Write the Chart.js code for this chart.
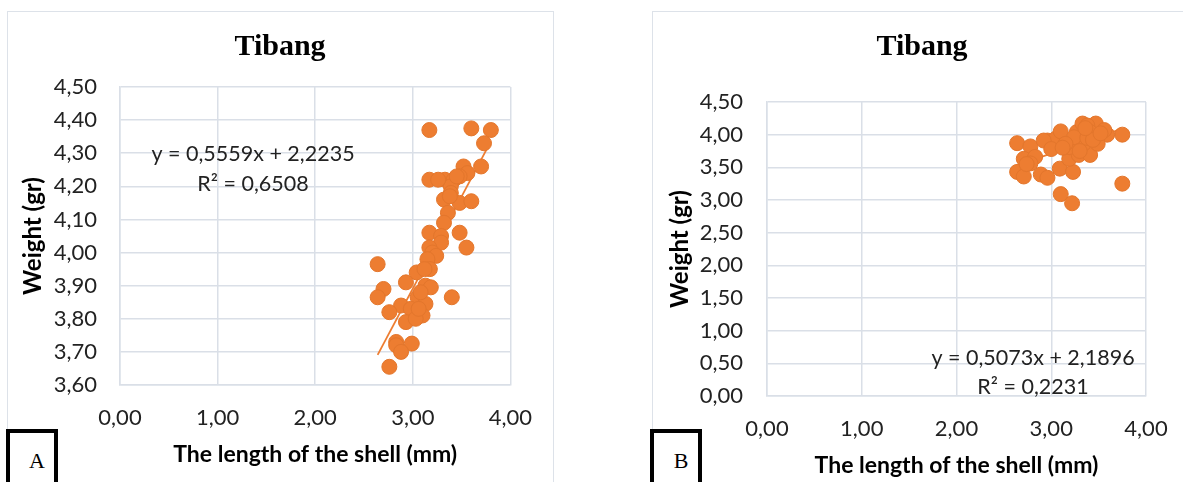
<!DOCTYPE html>
<html>
<head>
<meta charset="utf-8">
<script src="https://cdn.jsdelivr.net/npm/chart.js@4.4.0/dist/chart.umd.min.js"></script>
<style>
  html, body { margin: 0; padding: 0; background: #fff; }
  body { width: 1183px; height: 482px; position: relative; overflow: hidden; }
  .frame { position: absolute; border: 1.5px solid #dde2e9; box-sizing: border-box; }
  #frameA { left: 7px; top: 11px; width: 547px; height: 490px; }
  #frameB { left: 652px; top: 11px; width: 540px; height: 490px; }
  canvas { position: absolute; }
  #chartA { left: 8px; top: 12px; }
  #chartB { left: 653px; top: 12px; }
  .tag { position: absolute; top: 429px; width: 52px; height: 70px; border: 4px solid #000;
         box-sizing: border-box; background: #fff; font-family: 'Liberation Serif', serif;
         font-size: 22px; line-height: 26px; padding: 15px 0 0 10px; text-align: center; color: #000; }
  #tagA { left: 6px; }
  #tagB { left: 650px; }
</style>
</head>
<body>
<div class="frame" id="frameA"></div>
<div class="frame" id="frameB"></div>
<canvas id="chartA" width="544" height="470"></canvas>
<canvas id="chartB" width="538" height="470"></canvas>
<div class="tag" id="tagA">A</div>
<div class="tag" id="tagB">B</div>

<script>
// chart A: Tibang, weight vs shell length
const lengthA = [3.17, 3.60, 3.80, 3.73, 3.70, 3.52, 3.56, 3.48, 3.17, 3.33,
                 3.42, 3.39, 3.39, 3.32, 3.48, 3.60, 3.36, 3.32, 3.17, 3.29,
                 3.48, 3.29, 3.55, 3.17, 3.20, 3.24, 3.15, 3.175, 3.04, 2.93,
                 3.13, 3.185, 2.64, 2.70, 2.64, 3.05, 3.40, 2.88, 3.13, 2.76,
                 2.98, 3.10, 2.93, 3.03, 2.83, 2.83, 2.99, 2.88, 2.76, 3.08,
                 3.12, 3.06, 3.26, 3.45, 3.38];
const weightA = [4.37, 4.375, 4.37, 4.33, 4.26, 4.26, 4.24, 4.23, 4.22, 4.22,
                 4.22, 4.20, 4.18, 4.16, 4.15, 4.155, 4.12, 4.09, 4.06, 4.05,
                 4.06, 4.03, 4.015, 4.015, 4.00, 3.99, 3.98, 3.95, 3.94, 3.91,
                 3.90, 3.895, 3.965, 3.89, 3.865, 3.865, 3.865, 3.84, 3.845, 3.82,
                 3.83, 3.81, 3.79, 3.80, 3.73, 3.72, 3.725, 3.70, 3.655, 3.88,
                 3.95, 3.83, 4.22, 4.23, 4.17];
const slopeA = 0.5559, interceptA = 2.2235, r2A = 0.6508;
const yTicksA = [3.6, 3.7, 3.8, 3.9, 4.0, 4.1, 4.2, 4.3, 4.4, 4.5];

// chart B: Tibang, second sample
const lengthB = [2.64, 2.78, 2.71, 2.83, 2.78, 2.64, 2.71, 2.89, 2.96, 2.96,
                 3.05, 3.10, 3.09, 3.23, 3.10, 3.22, 3.75, 3.75, 3.19, 3.29,
                 3.41, 3.19, 3.27, 3.33, 3.47, 3.38, 3.59, 3.49, 3.34, 3.41,
                 3.56, 3.31, 3.24, 3.15, 2.92, 3.00, 2.74, 3.38, 3.44, 3.30,
                 3.12, 3.36, 3.52];
const weightB = [3.87, 3.82, 3.63, 3.66, 3.56, 3.43, 3.36, 3.39, 3.34, 3.91,
                 3.94, 4.05, 3.48, 3.43, 3.09, 2.95, 4.00, 3.25, 3.63, 3.69,
                 3.69, 3.81, 4.04, 4.17, 4.17, 4.14, 4.00, 3.86, 3.86, 4.04,
                 4.07, 3.94, 3.96, 3.86, 3.91, 3.78, 3.55, 3.95, 3.92, 3.75,
                 3.80, 4.10, 4.02];
const slopeB = 0.5073, interceptB = 2.1896, r2B = 0.2231;
const yTicksB = [0, 0.5, 1, 1.5, 2, 2.5, 3, 3.5, 4, 4.5];

const xTicks = [0, 1, 2, 3, 4];

const ORANGE = '#ED7D31';
const GRID = '#dadfe7';
const fmt = (v, d) => v.toFixed(d).replace('.', ',');

// trendline equation text
const eqLabel = {
  id: 'eqLabel',
  afterDatasetsDraw(chart, args, opts) {
    const a = chart.chartArea, ctx = chart.ctx;
    ctx.save();
    ctx.font = '21.5px Lato';
    ctx.fillStyle = '#222';
    ctx.textAlign = 'center';
    ctx.textBaseline = 'middle';
    opts.lines.forEach((t, i) => ctx.fillText(t, a.left + opts.dx, a.top + opts.dy + i * opts.gap));
    ctx.restore();
  }
};

function trend(xs, slope, icpt) {
  const lo = Math.min(...xs), hi = Math.max(...xs);
  return [{ x: lo, y: slope * lo + icpt }, { x: hi, y: slope * hi + icpt }];
}

function makeChart(id, xs, ys, slope, icpt, r2, yTicks, L) {
  const pts = xs.map((x, i) => ({ x, y: ys[i] }));
  return new Chart(document.getElementById(id), {
    type: 'scatter',
    data: {
      datasets: [
        { data: pts, order: 0, backgroundColor: ORANGE, borderColor: '#e3762c', borderWidth: 1,
          pointRadius: 7.5, pointHoverRadius: 7.5 },
        { data: trend(xs, slope, icpt), order: 1, showLine: true, borderColor: ORANGE,
          borderWidth: 1.8, pointRadius: 0, fill: false }
      ]
    },
    options: {
      responsive: false,
      animation: false,
      events: [],
      layout: { padding: 0 },
      plugins: {
        legend: { display: false },
        tooltip: { enabled: false },
        title: {
          display: true, text: 'Tibang', color: '#000',
          font: { family: 'Liberation Serif', size: 30, weight: 'bold' },
          padding: { top: L.titleTop, bottom: L.titleBottom }
        },
        eqLabel: {
          lines: ['y = ' + fmt(slope, 4) + 'x + ' + fmt(icpt, 4), 'R² = ' + fmt(r2, 4)],
          dx: L.eqDx, dy: L.eqDy, gap: L.eqGap
        }
      },
      scales: {
        x: {
          type: 'linear', min: 0, max: 4,
          afterBuildTicks: s => { s.ticks = xTicks.map(v => ({ value: v })); },
          afterFit: s => { s.height = L.xH; },
          grid: { color: GRID, lineWidth: 1.5, drawTicks: false },
          border: { color: GRID, width: 1.5 },
          ticks: { padding: L.xTickPad, color: '#222', maxRotation: 0,
                   font: { family: 'Lato', size: 22 }, callback: v => fmt(v, 2) },
          title: { display: true, text: 'The length of the shell (mm)', color: '#000',
                   font: { family: 'Lato', size: 23, weight: 'bold' },
                   padding: { top: 0, bottom: L.xTitlePad } }
        },
        y: {
          type: 'linear', min: yTicks[0], max: yTicks[yTicks.length - 1],
          afterBuildTicks: s => { s.ticks = yTicks.map(v => ({ value: v })); },
          afterFit: s => { s.width = L.yW; },
          grid: { color: GRID, lineWidth: 1.5, drawTicks: false },
          border: { color: GRID, width: 1.5 },
          ticks: { padding: L.yTickPad, color: '#222',
                   font: { family: 'Lato', size: 22 }, callback: v => fmt(v, 2) },
          title: { display: true, text: 'Weight (gr)', color: '#000',
                   font: { family: 'Lato', size: 24, weight: 'bold' },
                   padding: { top: L.yTitlePad, bottom: 0 } }
        },
        // empty right-hand strip so the title stays centred on the whole frame
        spacer: {
          type: 'linear', position: 'right', display: true,
          afterFit: s => { s.width = L.padRight; },
          grid: { display: false, drawTicks: false },
          border: { display: false },
          ticks: { display: false }
        }
      }
    },
    plugins: [eqLabel]
  });
}

makeChart('chartA', lengthA, weightA, slopeA, interceptA, r2A, yTicksA, {
  padRight: 36, titleTop: 17, titleBottom: 22, xH: 97, xTickPad: 20, xTitlePad: 13.2,
  yW: 112, yTickPad: 23, yTitlePad: 10.6, eqDx: 133, eqDy: 67, eqGap: 30
});

makeChart('chartB', lengthB, weightB, slopeB, interceptB, r2B, yTicksB, {
  padRight: 45, titleTop: 17, titleBottom: 37, xH: 86, xTickPad: 20, xTitlePad: 2.2,
  yW: 114, yTickPad: 24, yTitlePad: 12.6, eqDx: 266, eqDy: 256, eqGap: 29
});
</script>
</body>
</html>
